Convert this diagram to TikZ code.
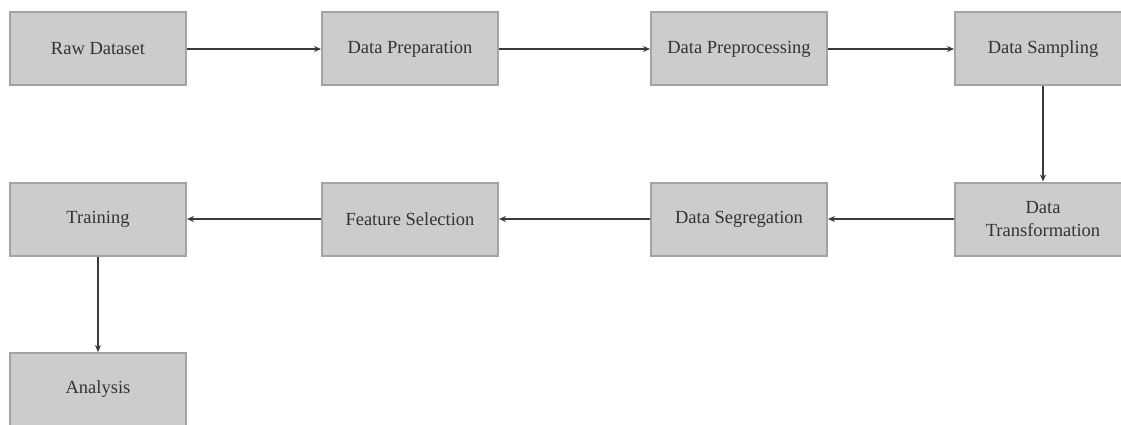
\documentclass[tikz,border=0pt]{standalone}
\usepackage{fontspec}
\setmainfont{Liberation Serif}
\usetikzlibrary{arrows.meta}
\definecolor{boxfill}{HTML}{CCCCCC}
\definecolor{boxline}{HTML}{A3A3A3}
\definecolor{boxtext}{HTML}{333333}
\definecolor{linkcol}{HTML}{3A3A3A}
\tikzset{
  stage/.style={draw=boxline, fill=boxfill, line width=2pt,
    minimum width=176pt, minimum height=73pt, inner sep=0pt,
    text=boxtext, align=center,
    font=\fontsize{18.5}{23.5}\selectfont},
  link/.style={draw=linkcol, line width=1.6pt,
    -{Stealth[length=7pt,width=6pt]}}
}
\begin{document}
\begin{tikzpicture}[x=1pt, y=-1pt]
  \useasboundingbox (0,0) rectangle (1121,425);
  \clip (0,0) rectangle (1121,425);
  % top row
  \node[stage] (raw)   at (98,49)  {Raw Dataset};
  \node[stage] (prep)  at (410,49) {Data Preparation};
  \node[stage] (proc)  at (739,49) {Data Preprocessing};
  \node[stage] (samp)  at (1043,49) {Data Sampling};
  % middle row
  \node[stage] (train) at (98,219)   {Training};
  \node[stage] (feat)  at (410,219)  {Feature Selection};
  \node[stage] (segr)  at (739,219)  {Data Segregation};
  \node[stage] (trans) at (1043,219) {Data\\Transformation};
  % bottom row
  \node[stage] (anal)  at (98,389.5) {Analysis};
  % flow
  \draw[link] (raw)  -- (prep);
  \draw[link] (prep) -- (proc);
  \draw[link] (proc) -- (samp);
  \draw[link] (samp) -- (trans);
  \draw[link] (trans) -- (segr);
  \draw[link] (segr) -- (feat);
  \draw[link] (feat) -- (train);
  \draw[link] (train) -- (anal);
\end{tikzpicture}
\end{document}
